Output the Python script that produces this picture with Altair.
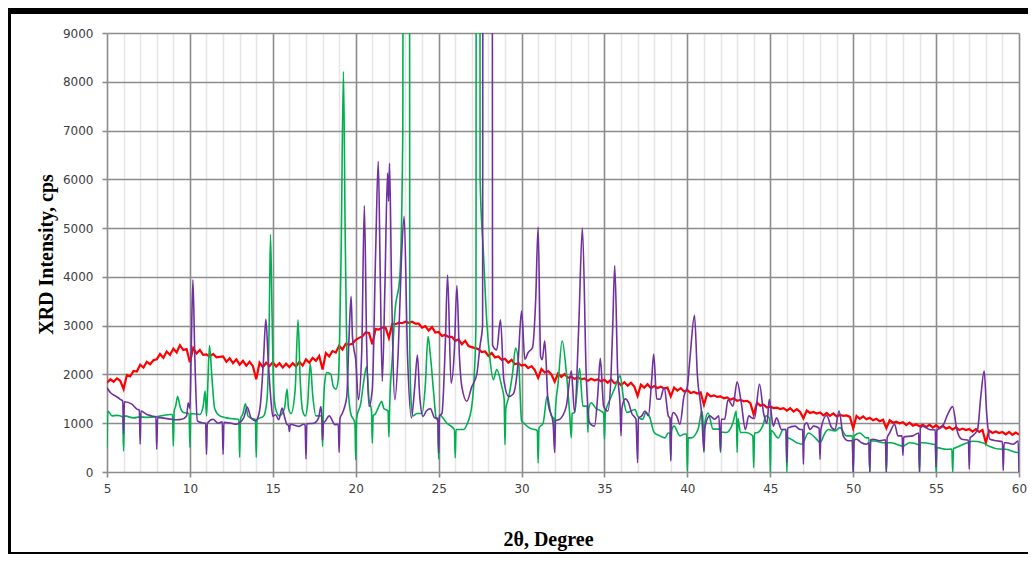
import altair as alt
import pandas as pd

# ---------------- data ----------------
# red pattern, sampled every 0.2 degree from 5.0 to 60.0
red_start = 5.0
red_step = 0.2
red_y = [
    1830, 1900, 1850, 1920, 1870,   # 5
    1700, 1990, 1960, 2070, 2060,   # 6
    2200, 2140, 2260, 2210, 2290,   # 7
    2310, 2420, 2340, 2470, 2400,   # 8
    2530, 2450, 2600, 2500, 2520,   # 9
    2250, 2540, 2430, 2500, 2400,   # 10
    2410, 2370, 2420, 2350, 2360,   # 11
    2370, 2260, 2330, 2230, 2310,   # 12
    2200, 2280, 2180, 2260, 2170,   # 13
    1900, 2240, 2150, 2240, 2170,   # 14
    2250, 2160, 2230, 2140, 2220,   # 15
    2150, 2230, 2160, 2260, 2180,   # 16
    2310, 2240, 2340, 2280, 2380,   # 17
    2100, 2440, 2370, 2480, 2450,   # 18
    2590, 2510, 2630, 2610, 2630,   # 19
    2710, 2750, 2780, 2860, 2850,   # 20
    2620, 2930, 2920, 2960, 2960,   # 21
    2750, 3030, 3030, 3060, 3050,   # 22
    3080, 3060, 3080, 3040, 3040,   # 23
    2960, 2990, 2900, 2970, 2860,   # 24
    2870, 2790, 2810, 2770, 2770,   # 25
    2690, 2720, 2620, 2690, 2580,   # 26
    2560, 2540, 2520, 2460, 2470,   # 27
    2380, 2440, 2350, 2370, 2300,   # 28
    2320, 2240, 2300, 2210, 2230,   # 29
    2180, 2200, 2130, 2170, 2090,   # 30
    1930, 2110, 2040, 2070, 2000,   # 31
    1850, 2020, 1950, 2010, 1930,   # 32
    1950, 1910, 1940, 1900, 1920,   # 33
    1870, 1910, 1880, 1900, 1860,   # 34
    1890, 1830, 1900, 1820, 1850,   # 35
    1780, 1840, 1770, 1830, 1750,   # 36
    1560, 1790, 1730, 1800, 1720,   # 37
    1760, 1720, 1750, 1710, 1730,   # 38
    1550, 1730, 1670, 1720, 1650,   # 39
    1680, 1620, 1640, 1610, 1630,   # 40
    1380, 1610, 1550, 1570, 1540,   # 41
    1550, 1510, 1530, 1480, 1510,   # 42
    1460, 1480, 1450, 1460, 1410,   # 43
    1180, 1420, 1360, 1380, 1320,   # 44
    1340, 1310, 1320, 1290, 1310,   # 45
    1260, 1310, 1240, 1290, 1230,   # 46
    1100, 1260, 1210, 1230, 1200,   # 47
    1220, 1160, 1210, 1150, 1200,   # 48
    1140, 1170, 1150, 1160, 1130,   # 49
    900, 1150, 1090, 1140, 1080,    # 50
    1110, 1060, 1090, 1040, 1070,   # 51
    900, 1060, 1010, 1030, 1000,    # 52
    1020, 960, 1010, 950, 980,      # 53
    940, 970, 920, 970, 910,        # 54
    960, 900, 950, 890, 920,        # 55
    870, 920, 860, 890, 860,        # 56
    880, 830, 880, 820, 860,        # 57
    600, 850, 800, 830, 800,        # 58
    820, 770, 820, 760, 810,        # 59
    770,                            # 60
]
red_x = [round(red_start + red_step * i, 1) for i in range(len(red_y))]

green_x = [
    5.0, 5.05, 5.3, 5.6, 5.95, 6.0, 6.05, 6.6, 7.0, 7.4, 7.9, 8.4, 8.8, 8.95, 9.0, 9.05,
    9.14, 9.26, 9.42, 9.6, 9.95, 10.0, 10.05, 10.6, 10.8, 10.92, 11.0, 11.06, 11.18, 11.32,
    11.5, 11.8, 12.2, 12.6, 12.95, 13.0, 13.05, 13.2, 13.35, 13.5, 13.8, 13.95, 14.0, 14.05,
    14.45, 14.65, 14.78, 14.86, 14.95, 15.05, 15.16, 15.4, 15.7, 15.86, 15.95, 16.1, 16.35,
    16.52, 16.65, 16.8, 16.96, 17.1, 17.26, 17.4, 17.6, 17.95, 18.0, 18.05, 18.15, 18.26,
    18.5, 18.65, 18.8, 18.95, 19.12, 19.26, 19.36, 19.5, 19.7, 19.95, 20.0, 20.05, 20.3,
    20.5, 20.66, 20.8, 20.95, 21.0, 21.05, 21.2, 21.4, 21.56, 21.7, 21.95, 22.0, 22.05,
    22.2, 22.36, 22.66, 22.84, 22.9, 23.2, 23.26, 23.36, 23.46, 23.7, 24.0, 24.2, 24.36,
    24.5, 24.7, 24.85, 24.95, 25.0, 25.05, 25.5, 25.95, 26.0, 26.05, 26.5, 26.7, 27.0,
    27.15, 27.25, 27.3, 27.45, 27.5, 27.7, 27.9, 28.1, 28.3, 28.5, 28.8, 28.95, 29.0,
    29.05, 29.2, 29.45, 29.64, 29.84, 30.0, 30.14, 30.5, 30.95, 31.0, 31.05, 31.3, 31.55,
    31.8, 31.95, 32.0, 32.05, 32.2, 32.45, 32.7, 32.9, 33.0, 33.05, 33.2, 33.5, 33.7,
    33.95, 34.0, 34.05, 34.2, 34.5, 34.8, 34.95, 35.0, 35.05, 35.35, 35.6, 35.95, 36.15,
    36.35, 36.85, 37.0, 37.3, 37.5, 37.7, 38.0, 38.35, 38.65, 38.85, 38.95, 39.0, 39.05,
    39.2, 39.55, 39.85, 39.95, 40.0, 40.05, 40.25, 40.65, 40.88, 40.95, 41.0, 41.05,
    41.25, 41.55, 41.95, 42.0, 42.05, 42.35, 42.75, 42.95, 43.0, 43.05, 43.2, 43.55,
    43.95, 44.0, 44.05, 44.25, 44.55, 44.75, 44.95, 45.0, 45.05, 45.48, 45.78, 45.95,
    46.0, 46.05, 46.6, 46.9, 47.3, 47.8, 48.0, 48.3, 48.5, 48.9, 49.2, 49.6, 49.95, 50.0,
    50.05, 50.4, 50.8, 50.95, 51.0, 51.05, 51.3, 51.8, 51.95, 52.0, 52.05, 52.3, 52.6,
    53.0, 53.4, 53.95, 54.0, 54.05, 54.2, 54.8, 54.95, 55.0, 55.05, 55.6, 55.95, 56.0,
    56.05, 56.2, 56.9, 57.2, 57.8, 58.2, 58.8, 59.2, 59.95, 60.0,
]
green_y = [
    500, 1250, 1150, 1160, 1130, 430, 1150, 1110, 1130, 1120, 1130, 1160, 1180, 1180, 530, 1250,
    1350, 1545, 1320, 1220, 1200, 500, 1200, 1180, 1350, 1660, 1150, 1600, 2590, 1970,
    1290, 1150, 1110, 1090, 1080, 300, 1080, 1200, 1400, 1150, 1090, 1080, 300, 1070,
    1150, 1490, 3000, 4870, 3300, 1700, 1310, 1150, 1300, 1700, 1300, 1200, 1700,
    3120, 1900, 1250, 1150, 1400, 2220, 1600, 1150, 1150, 525, 1300, 1900, 2040,
    2000, 1750, 1700, 1900, 4500, 8210, 5000, 2000, 1200, 1000, 250, 1100, 1400,
    1900, 2160, 1500, 1250, 590, 1150, 1200, 1350, 1450, 1300, 1250, 720, 1400,
    2300, 3260, 4010, 7000, 40000, 40000, 2500, 1345, 1150, 1200, 1200, 1800, 2780,
    2400, 1620, 1100, 1050, 266, 1170, 1000, 870, 290, 870, 870, 970, 1350,
    2000, 3000, 40000, 40000, 6000, 4500, 3100, 2300, 1890, 2100, 1760, 1500, 560,
    1300, 1500, 2000, 2540, 2170, 1050, 1000, 900, 850, 185, 900, 1000, 1560,
    1150, 1100, 740, 1300, 1800, 2690, 2040, 1200, 700, 1200, 1220, 2120, 1350,
    1350, 810, 1300, 1420, 1300, 1250, 1200, 670, 1200, 1500, 1700, 1970, 1500,
    1220, 1280, 1150, 1080, 1220, 1150, 810, 740, 700, 800, 800, 260, 850,
    940, 740, 780, 780, 20, 700, 700, 880, 1250, 1000, 400, 1000,
    1210, 880, 880, 400, 820, 810, 1010, 1250, 400, 1100, 810, 810,
    740, 90, 800, 810, 950, 1150, 1100, 0, 850, 700, 870, 870,
    0, 700, 600, 570, 800, 670, 600, 800, 870, 840, 910, 740, 740, 0,
    740, 800, 700, 700, 0, 640, 635, 600, 600, 0, 600, 600, 570,
    530, 600, 560, 0, 600, 600, 570, 560, 0, 500, 465, 470, 0,
    480, 500, 600, 630, 600, 530, 470, 465, 400, 420,
]

purple_x = [
    5.0, 5.2, 5.5, 5.8, 5.95, 6.0, 6.05, 6.5, 6.8, 6.95, 7.0, 7.05, 7.4, 7.7, 7.95, 8.0,
    8.05, 8.6, 8.9, 9.2, 9.5, 9.8, 9.9, 10.0, 10.08, 10.18, 10.3, 10.45, 10.72, 10.95,
    11.0, 11.05, 11.4, 11.7, 11.95, 12.0, 12.05, 12.5, 12.8, 13.25, 13.45, 13.7, 13.95,
    14.05, 14.24, 14.44, 14.58, 14.72, 14.88, 15.0, 15.16, 15.36, 15.56, 15.72, 15.86,
    15.95, 16.0, 16.05, 16.56, 16.86, 16.95, 17.0, 17.05, 17.46, 17.76, 17.9, 17.97,
    18.0, 18.05, 18.16, 18.4, 18.76, 18.95, 19.0, 19.05, 19.2, 19.46, 19.6, 19.72, 19.8,
    19.88, 20.0, 20.16, 20.36, 20.52, 20.66, 20.8, 21.0, 21.2, 21.36, 21.48, 21.6, 21.76,
    21.92, 21.98, 22.04, 22.16, 22.36, 22.56, 22.76, 22.92, 23.12, 23.36, 23.56, 23.72,
    23.86, 24.06, 24.26, 24.5, 24.76, 24.95, 25.0, 25.05, 25.2, 25.4, 25.54, 25.75,
    25.95, 26.1, 26.25, 26.4, 26.7, 27.0, 27.3, 27.5, 27.65, 27.7, 28.2, 28.25, 28.5,
    28.73, 28.93, 29.23, 29.5, 29.78, 30.0, 30.2, 30.4, 30.66, 30.85, 31.0, 31.15,
    31.25, 31.4, 31.6, 31.9, 32.0, 32.05, 32.3, 32.7, 33.0, 33.2, 33.45, 33.67, 33.9,
    34.1, 34.4, 34.6, 34.75, 34.95, 35.2, 35.4, 35.5, 35.62, 35.8, 35.95, 36.0, 36.05,
    36.25, 36.45, 36.65, 36.9, 37.0, 37.05, 37.25, 37.45, 37.65, 37.85, 37.97, 38.15,
    38.35, 38.6, 38.85, 38.95, 39.0, 39.05, 39.15, 39.35, 39.55, 39.8, 40.0, 40.15,
    40.43, 40.6, 40.87, 41.0, 41.05, 41.35, 41.65, 41.9, 42.0, 42.05, 42.25, 42.45,
    42.75, 43.0, 43.25, 43.5, 43.7, 43.95, 44.05, 44.35, 44.6, 44.8, 44.94, 45.18,
    45.38, 45.68, 45.95, 46.0, 46.05, 46.5, 46.8, 46.95, 47.0, 47.05, 47.2, 47.4, 47.6,
    47.95, 48.0, 48.05, 48.4, 48.7, 48.9, 49.15, 49.4, 49.7, 49.95, 50.0, 50.05, 50.2,
    50.5, 50.8, 50.95, 51.0, 51.05, 51.2, 51.6, 51.95, 52.0, 52.05, 52.2, 52.5, 52.7,
    52.95, 53.0, 53.05, 53.6, 53.95, 54.0, 54.05, 54.2, 54.6, 54.95, 55.0, 55.05, 55.4,
    55.7, 56.0, 56.25, 56.55, 56.95, 57.0, 57.05, 57.2, 57.5, 57.7, 57.9, 58.05, 58.25,
    58.65, 59.0, 59.05, 59.1, 59.25, 59.65, 59.95, 60.0,
]
purple_y = [
    1730, 1630, 1560, 1490, 1450, 780, 1440, 1390, 1290, 1270, 570, 1250, 1180, 1150, 1130, 465,
    1120, 1095, 1080, 1070, 1080, 1150, 1420, 1300, 2500, 3940, 2310, 1050, 1010, 1000,
    360, 1000, 1080, 1000, 1030, 360, 1020, 1000, 980, 1115, 1330, 1100, 1050,
    1080, 1350, 2310, 3130, 2300, 1500, 1140, 1175, 1070, 1310, 1110, 970,
    960, 830, 980, 935, 980, 960, 266, 990, 1000, 1110, 1340, 1000,
    650, 1000, 1040, 1150, 970, 980, 400, 1100, 1210, 1550, 2800, 3600, 2800,
    2540, 2300, 1480, 2440, 5460, 2600, 1345, 1700, 4490, 6370, 4000, 1860, 3800,
    6130, 5550, 6330, 3800, 1480, 2440, 4400, 5240, 2440, 1110, 1755, 2400,
    1550, 1140, 1250, 1300, 1110, 1100, 390, 1150, 1200, 2600, 4040, 1820,
    2500, 3820, 2400, 1750, 1450, 1750, 2000, 2600, 3000, 40000, 40000, 2600, 2500,
    3120, 1890, 1550, 1600, 2200, 3300, 2310, 2450, 2550, 3500, 5020, 2370,
    2300, 2690, 1420, 1010, 400, 1050, 1080, 1350, 2070, 1220, 3000, 5000, 2000,
    1010, 940, 1600, 2330, 1350, 1250, 2000, 3000, 4230, 2000, 1290, 740, 1300,
    1500, 1420, 1200, 1080, 190, 1100, 1150, 1250, 1150, 1900, 2420, 1500,
    1490, 1730, 1150, 1100, 225, 1100, 1220, 1150, 980, 1560, 1750, 2300,
    3210, 2000, 1150, 430, 900, 1150, 1080, 1150, 430, 1080, 1080, 1480,
    1350, 1850, 1420, 870, 1150, 1100, 1100, 1800, 1200, 1000, 1490, 940,
    1110, 870, 870, 190, 900, 940, 870, 870, 160, 950, 1010, 870, 940,
    900, 260, 870, 1160, 910, 870, 1250, 740, 640, 640, 0, 650, 670,
    600, 570, 600, 0, 660, 670, 640, 660, 0, 700, 800, 980, 740,
    740, 340, 720, 740, 800, 0, 900, 940, 870, 860, 100, 850, 940,
    1180, 1340, 870, 670, 650, 55, 700, 740, 870, 1560, 2070, 1200, 670,
    640, 620, 30, 600, 600, 570, 635, 0,
]

x_ticks = list(range(5, 61))
y_ticks = list(range(0, 9001, 1000))

series_colors = ["#ff0000", "#00b050", "#7030a0"]

# ---------------- layout ----------------
W, H = 912, 439
PAD_L, PAD_T, PAD_R, PAD_B = 99, 25, 9, 82

xscale = alt.Scale(domain=[5, 60], nice=False, zero=False)
yscale = alt.Scale(domain=[0, 9000], nice=False)

major_test = "datum.value % 5 === 0"
x_axis = alt.Axis(
    values=x_ticks,
    labelExpr="datum.value % 5 === 0 ? datum.label : ''",
    format="d",
    title="2θ, Degree",
    domain=False,
    grid=True,
    gridColor={"condition": {"test": major_test, "value": "#8c8c8c"}, "value": "#e6e6e6"},
    gridWidth=1.6,
    ticks=True,
    tickColor={"condition": {"test": major_test, "value": "#8c8c8c"}, "value": "transparent"},
    tickWidth=1.6,
    tickSize=5,
    labelFont="DejaVu Sans",
    labelFontSize=12,
    labelColor="#404040",
    labelPadding=6,
    labelFlush=False,
    labelOverlap=False,
    titleFont="Liberation Serif",
    titleFontSize=20,
    titleFontWeight="bold",
    titleColor="#000000",
    titleX=441,
    titleY=73,
    titleAlign="center",
    titleBaseline="alphabetic",
)
y_axis = alt.Axis(
    values=y_ticks,
    format="d",
    title="XRD Intensity, cps",
    domain=False,
    grid=True,
    gridColor="#8c8c8c",
    gridWidth=1.6,
    tickColor="#8c8c8c",
    tickWidth=1.6,
    tickSize=5,
    labelFont="DejaVu Sans",
    labelFontSize=12,
    labelColor="#404040",
    labelPadding=9,
    labelFlush=False,
    labelOverlap=False,
    titleFont="Liberation Serif",
    titleFontSize=20,
    titleFontWeight="bold",
    titleColor="#000000",
    titleAngle=270,
    titleX=-55,
    titleY=221,
    titleAlign="center",
    titleBaseline="alphabetic",
)


def series_layer(xs, ys, color, width, interp):
    df = pd.DataFrame({"two_theta": xs, "intensity": ys})
    return alt.Chart(df).mark_line(
        color=color, strokeWidth=width, clip=True, interpolate=interp
    ).encode(
        x=alt.X("two_theta:Q", scale=xscale, axis=x_axis),
        y=alt.Y("intensity:Q", scale=yscale, axis=y_axis),
        order=alt.Order("two_theta:Q"),
    )


red = series_layer(red_x, red_y, series_colors[0], 2.2, "linear")
green = series_layer(green_x, green_y, series_colors[1], 1.6, "monotone")
purple = series_layer(purple_x, purple_y, series_colors[2], 1.6, "monotone")

one = pd.DataFrame({"k": [0]})
frame_top = alt.Chart(one).mark_rect(color="black").encode(
    x=alt.value(-PAD_L), x2=alt.value(W + PAD_R), y=alt.value(-PAD_T), y2=alt.value(-PAD_T + 6)
)
frame_left = alt.Chart(one).mark_rect(color="black").encode(
    x=alt.value(-PAD_L), x2=alt.value(-PAD_L + 3), y=alt.value(-PAD_T), y2=alt.value(H + PAD_B)
)
frame_bottom = alt.Chart(one).mark_rect(color="black").encode(
    x=alt.value(-PAD_L), x2=alt.value(W + PAD_R), y=alt.value(H + PAD_B - 2), y2=alt.value(H + PAD_B)
)

chart = (
    alt.layer(red, green, purple, frame_top, frame_left, frame_bottom)
    .properties(
        width=W,
        height=H,
        autosize=alt.AutoSizeParams(type="none"),
        padding={"left": PAD_L, "top": PAD_T, "right": PAD_R, "bottom": PAD_B},
        background="white",
    )
    .configure_view(strokeWidth=0)
)

chart.save("out.html", embed_options={"renderer": "svg", "actions": False})
